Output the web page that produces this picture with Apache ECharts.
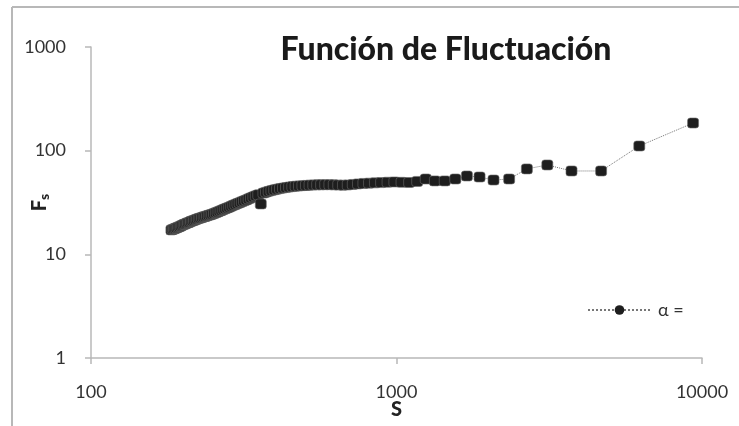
<!DOCTYPE html>
<html>
<head>
<meta charset="utf-8">
<script src="https://cdn.jsdelivr.net/npm/echarts@6/dist/echarts.min.js"></script>
<style>html,body{margin:0;padding:0;background:#fff;}#c{width:739px;height:426px;}</style>
</head>
<body>
<div id="c"></div>
<script>
// Scale values S
var sValues = [183.3,185.1,187,188.9,190.8,192.8,194.8,196.8,198.9,201.1,203.3,205.5,207.8,210.1,212.5,214.9,217.4,220,222.6,225.3,228,230.9,233.8,236.7,239.7,242.9,246.1,249.3,252.7,256.2,259.7,263.4,267.1,271,275,279.1,283.3,287.7,292.2,296.8,301.6,306.6,311.7,316.9,322.4,328.1,333.9,340,346.3,352.8,359.6,366.7,374,381.6,389.6,397.9,406.5,415.6,425,434.9,445.2,456.1,467.5,479.5,492.1,505.4,519.4,534.3,550,566.7,584.4,603.2,623.3,644.8,667.9,692.6,719.2,748,779.2,813,850,890.5,935,984.2,1038.9,1100,1168.8,1246.7,1335.7,1438.5,1558.3,1700,1870,2077.8,2337.5,2671.4,3116.7,3740,4675,6233,9350];
// Fluctuation function Fs
var fsValues = [17.2,17.4,17.6,17.8,18.0,18.3,18.5,18.8,19.1,19.4,19.6,19.9,20.2,20.4,20.8,21.0,21.3,21.6,21.9,22.2,22.4,22.7,23.0,23.2,23.5,23.8,24.1,24.4,24.8,25.2,25.6,26.1,26.5,27.0,27.5,28.0,28.5,29.1,29.7,30.3,30.9,31.5,32.2,32.8,33.5,34.3,35.1,35.9,36.7,37.5,30.6,39.0,39.8,40.5,41.2,41.9,42.5,43.1,43.6,44.1,44.6,45.0,45.4,45.7,46.0,46.2,46.5,46.7,46.8,46.9,47.0,47.0,46.8,46.6,46.5,46.7,47.2,47.8,48.3,48.6,48.9,49.2,49.6,49.9,49.5,49.3,50.5,53.3,51.1,51.1,53.3,57.0,55.7,52.1,53.3,66.7,72.8,63.7,63.7,110.9,184.8];
var xTicks = [100, 1000, 10000];
var yTicks = [1, 10, 100, 1000];
var titleText = 'Función de Fluctuación';
var legendText = 'α =';

var pts = sValues.map(function (s, i) { return [s, fsValues[i]]; });
var FONT = 'Lato, "Open Sans", sans-serif';

var chart = echarts.init(document.getElementById('c'), null, {renderer: 'canvas'});
chart.setOption({
  animation: false,
  backgroundColor: '#fff',
  title: {
    text: titleText,
    left: 441,
    top: 29,
    textAlign: 'center',
    textStyle: {fontFamily: FONT, fontWeight: 900, fontSize: 32, color: '#1a1a1a'}
  },
  graphic: [{
    type: 'line',
    shape: {x1: 12, y1: 7, x2: 739, y2: 7},
    style: {stroke: '#b8b8b8', lineWidth: 2},
    silent: true
  }, {
    type: 'line',
    shape: {x1: 12, y1: 7, x2: 12, y2: 426},
    style: {stroke: '#b8b8b8', lineWidth: 2},
    silent: true
  }],
  grid: {left: 91, right: 37, top: 47, bottom: 68, containLabel: false, outerBoundsMode: 'none'},
  legend: {
    left: 587,
    top: 301,
    padding: 0,
    itemWidth: 63,
    itemHeight: 12,
    itemGap: 0,
    data: [legendText],
    textStyle: {fontFamily: FONT, fontSize: 18, color: '#333', padding: [0, 0, 0, 2]}
  },
  xAxis: {
    type: 'log',
    logBase: 10,
    min: 100,
    max: 10000,
    name: 'S',
    nameLocation: 'middle',
    nameGap: 42,
    nameMoveOverlap: false,
    nameTextStyle: {fontFamily: FONT, fontWeight: 900, fontSize: 20, color: '#222'},
    axisLine: {lineStyle: {color: '#b8b8b8', width: 1.5}},
    axisTick: {length: 6, lineStyle: {color: '#b8b8b8', width: 1.5}},
    minorTick: {show: false},
    splitLine: {show: false},
    axisLabel: {
      margin: 25,
      fontFamily: FONT, fontSize: 18, color: '#333',
      formatter: function (v) { return xTicks.indexOf(Math.round(v)) >= 0 ? String(Math.round(v)) : ''; }
    }
  },
  yAxis: {
    type: 'log',
    logBase: 10,
    min: 1,
    max: 1000,
    name: '{f|F}{s|s}',
    nameLocation: 'middle',
    nameGap: 40,
    nameMoveOverlap: false,
    nameTextStyle: {
      rich: {
        f: {fontFamily: FONT, fontWeight: 900, fontSize: 20, color: '#222'},
        s: {fontFamily: FONT, fontWeight: 900, fontSize: 14, color: '#222', verticalAlign: 'bottom', padding: [8, 0, 0, 0]}
      }
    },
    axisLine: {show: true, lineStyle: {color: '#b8b8b8', width: 1.5}},
    axisTick: {show: true, length: 6, lineStyle: {color: '#b8b8b8', width: 1.5}},
    splitLine: {show: false},
    axisLabel: {
      margin: 25,
      fontFamily: FONT, fontSize: 18, color: '#333',
      formatter: function (v) { return yTicks.indexOf(Math.round(v)) >= 0 ? String(Math.round(v)) : ''; }
    }
  },
  series: [{
    name: 'Fs',
    type: 'line',
    data: pts,
    symbol: 'roundRect',
    symbolSize: [11, 10],
    itemStyle: {color: '#1e1e1e', borderColor: '#6a6a6a', borderWidth: 0.6},
    lineStyle: {color: '#777', width: 1, type: 'dotted'}
  }, {
    name: legendText,
    type: 'line',
    data: [],
    symbol: 'circle',
    symbolSize: 12,
    itemStyle: {color: '#1e1e1e'},
    lineStyle: {color: '#777', width: 1.2, type: 'dotted'}
  }]
});
</script>
</body>
</html>
